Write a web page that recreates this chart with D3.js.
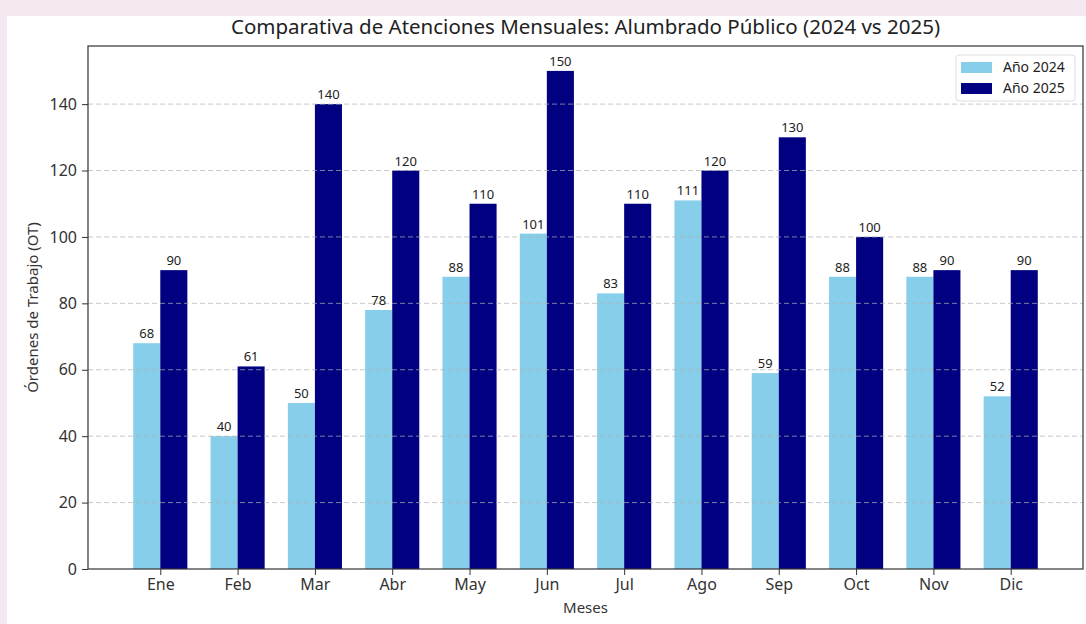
<!DOCTYPE html>
<html>
<head>
<meta charset="utf-8">
<script src="https://cdn.jsdelivr.net/npm/d3@7"></script>
<style>
  body { margin: 0; background: #f4e9f0; }
  svg { display: block; font-family: "Noto Sans", "Open Sans", sans-serif; }
</style>
</head>
<body>
<div class="chart"></div>
<script>
var months = ["Ene", "Feb", "Mar", "Abr", "May", "Jun", "Jul", "Ago", "Sep", "Oct", "Nov", "Dic"];
var values2024 = [68, 40, 50, 78, 88, 101, 83, 111, 59, 88, 88, 52];
var values2025 = [90, 61, 140, 120, 110, 150, 110, 120, 130, 100, 90, 90];
var yTicks = [0, 20, 40, 60, 80, 100, 120, 140];
var seriesNames = ["Año 2024", "Año 2025"];
var seriesColors = ["#87ceeb", "#000080"];

var svgWidth = 1086;
var svgHeight = 624;

var margin = {top: 46, right: 3, bottom: 55, left: 88};
var chartWidth = svgWidth - margin.left - margin.right;
var chartHeight = svgHeight - margin.top - margin.bottom;

var root = d3.select(".chart")
	.append("svg")
	.attr("width", svgWidth)
	.attr("height", svgHeight);

// white card behind the chart
root.append("rect")
	.attr("x", 7)
	.attr("y", 16)
	.attr("width", svgWidth - 7)
	.attr("height", svgHeight - 16)
	.attr("fill", "#ffffff");

var svg = root.append("g")
	.attr("transform", `translate(${margin.left}, ${margin.top})`);

var barW = 0.35;
var n = months.length;
// matplotlib-like x limits with 5% margins around the bars
var lo = -barW, hi = n - 1 + barW;
var pad = (hi - lo) * 0.05;

var xScale = d3.scaleLinear()
	.domain([lo - pad, hi + pad])
	.range([0, chartWidth]);

var yScale = d3.scaleLinear()
	.domain([0, 157.5])
	.range([chartHeight, 0]);

var bw = xScale(barW) - xScale(0);

var bars2024 = svg.append("g");
bars2024.selectAll("rect")
	.data(values2024)
	.enter().append("rect")
		.attr("x", function(d, i){ return xScale(i - barW); })
		.attr("y", function(d){ return yScale(d); })
		.attr("width", bw)
		.attr("height", function(d){ return chartHeight - yScale(d); })
		.attr("fill", seriesColors[0]);

var bars2025 = svg.append("g");
bars2025.selectAll("rect")
	.data(values2025)
	.enter().append("rect")
		.attr("x", function(d, i){ return xScale(i); })
		.attr("y", function(d){ return yScale(d); })
		.attr("width", bw)
		.attr("height", function(d){ return chartHeight - yScale(d); })
		.attr("fill", seriesColors[1]);

// dashed grid, drawn over bars
svg.append("g")
	.selectAll("line")
	.data(yTicks.slice(1))
	.enter().append("line")
		.attr("x1", 0)
		.attr("x2", chartWidth)
		.attr("y1", function(d){ return yScale(d); })
		.attr("y2", function(d){ return yScale(d); })
		.attr("stroke", "#b0b0b0")
		.attr("stroke-opacity", 0.7)
		.attr("stroke-width", 1)
		.attr("stroke-dasharray", "5,3");

// value labels
svg.append("g").selectAll("text")
	.data(values2024)
	.enter().append("text")
		.attr("x", function(d, i){ return xScale(i - barW / 2); })
		.attr("y", function(d){ return yScale(d) - 5; })
		.attr("text-anchor", "middle")
		.attr("font-size", 13)
		.attr("fill", "#222")
		.text(function(d){ return d; });

svg.append("g").selectAll("text")
	.data(values2025)
	.enter().append("text")
		.attr("x", function(d, i){ return xScale(i + barW / 2); })
		.attr("y", function(d){ return yScale(d) - 5; })
		.attr("text-anchor", "middle")
		.attr("font-size", 13)
		.attr("fill", "#222")
		.text(function(d){ return d; });

// axes
var bottomAxis = d3.axisBottom(xScale)
	.tickValues(d3.range(n))
	.tickFormat(function(i){ return months[i]; })
	.tickSize(6)
	.tickPadding(4);

var leftAxis = d3.axisLeft(yScale)
	.tickValues(yTicks)
	.tickSize(6)
	.tickPadding(5);

var gx = svg.append("g")
	.attr("transform", `translate(0, ${chartHeight})`)
	.call(bottomAxis);

var gy = svg.append("g")
	.call(leftAxis);

[gx, gy].forEach(function(g){
	g.select(".domain").remove();
	g.selectAll("line").attr("stroke", "#333");
	g.selectAll("text")
		.attr("font-size", 16)
		.attr("fill", "#333")
		.style("font-family", "'Noto Sans', 'Open Sans', sans-serif");
});

// frame
svg.append("rect")
	.attr("x", 0)
	.attr("y", 0)
	.attr("width", chartWidth)
	.attr("height", chartHeight)
	.attr("fill", "none")
	.attr("stroke", "#333")
	.attr("stroke-width", 1.2);

// titles
svg.append("text")
	.attr("x", chartWidth / 2)
	.attr("y", -12)
	.attr("text-anchor", "middle")
	.attr("font-size", 20.5)
	.attr("fill", "#222")
	.text("Comparativa de Atenciones Mensuales: Alumbrado Público (2024 vs 2025)");

svg.append("text")
	.attr("x", chartWidth / 2)
	.attr("y", chartHeight + 44)
	.attr("text-anchor", "middle")
	.attr("font-size", 15)
	.attr("fill", "#333")
	.text("Meses");

svg.append("text")
	.attr("transform", "rotate(-90)")
	.attr("x", -chartHeight / 2)
	.attr("y", -margin.left + 38)
	.attr("text-anchor", "middle")
	.attr("font-size", 15)
	.attr("fill", "#333")
	.text("Órdenes de Trabajo (OT)");

// legend
var legend = svg.append("g")
	.attr("transform", `translate(${chartWidth - 127}, 9)`);

legend.append("rect")
	.attr("width", 119)
	.attr("height", 46)
	.attr("rx", 3)
	.attr("fill", "#fff")
	.attr("fill-opacity", 0.8)
	.attr("stroke", "#ddd");

seriesNames.forEach(function(name, i){
	legend.append("rect")
		.attr("x", 5)
		.attr("y", 7 + i * 21)
		.attr("width", 31)
		.attr("height", 11)
		.attr("fill", seriesColors[i]);
	legend.append("text")
		.attr("x", 47)
		.attr("y", 17 + i * 21)
		.attr("font-size", 14)
		.attr("fill", "#222")
		.text(name);
});
</script>
</body>
</html>
